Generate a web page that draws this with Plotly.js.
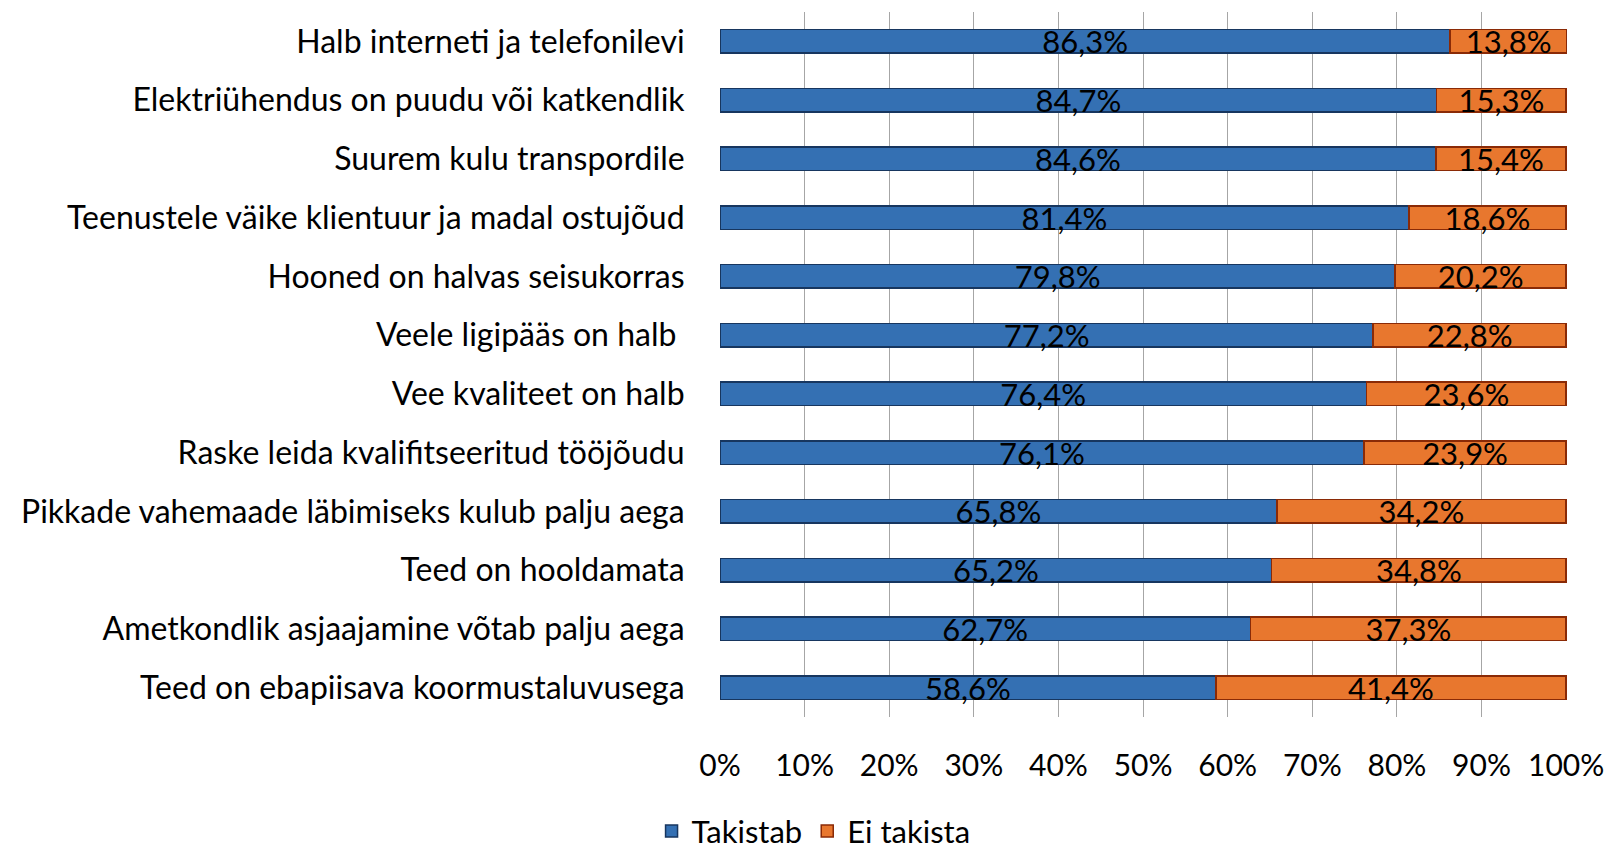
<!DOCTYPE html>
<html>
<head>
<meta charset="utf-8">
<script src="https://cdn.plot.ly/plotly-3.0.1.min.js"></script>
<style>html,body{margin:0;padding:0;background:#fff}#chart{width:1611px;height:850px}</style>
</head>
<body>
<div id="chart"></div>
<script>
const categories = [
  "Halb interneti ja telefonilevi",
  "Elektriühendus on puudu või katkendlik",
  "Suurem kulu transpordile",
  "Teenustele väike klientuur ja madal ostujõud",
  "Hooned on halvas seisukorras",
  "Veele ligipääs on halb ",
  "Vee kvaliteet on halb",
  "Raske leida kvalifitseeritud tööjõudu",
  "Pikkade vahemaade läbimiseks kulub palju aega",
  "Teed on hooldamata",
  "Ametkondlik asjaajamine võtab palju aega",
  "Teed on ebapiisava koormustaluvusega"
];
const takistab = [86.3, 84.7, 84.6, 81.4, 79.8, 77.2, 76.4, 76.1, 65.8, 65.2, 62.7, 58.6];
const eiTakista = [13.8, 15.3, 15.4, 18.6, 20.2, 22.8, 23.6, 23.9, 34.2, 34.8, 37.3, 41.4];
const tickVals = [0, 10, 20, 30, 40, 50, 60, 70, 80, 90, 100];
const tickText = ["0%", "10%", "20%", "30%", "40%", "50%", "60%", "70%", "80%", "90%", "100%"];

const FONT = "Lato, 'Open Sans', sans-serif";

const traces = [
  {
    type: "bar", orientation: "h", name: "Takistab",
    y: categories, x: takistab,
    marker: {color: "#3470b3", line: {color: "#17365f", width: 1.5}},
    texttemplate: "%{x:.1f}%", textposition: "inside", insidetextanchor: "middle",
    constraintext: "none", cliponaxis: false,
    textfont: {family: FONT, size: 31, color: "#000"}
  },
  {
    type: "bar", orientation: "h", name: "Ei takista",
    y: categories, x: eiTakista,
    marker: {color: "#e8772e", line: {color: "#8a2a06", width: 1.5}},
    texttemplate: "%{x:.1f}%", textposition: "inside", insidetextanchor: "middle",
    constraintext: "none", cliponaxis: false,
    textfont: {family: FONT, size: 31, color: "#000"}
  }
];

const layout = {
  width: 1611, height: 850,
  paper_bgcolor: "#fff", plot_bgcolor: "#fff",
  separators: ",.",
  barmode: "stack", bargap: 0.6,
  font: {family: FONT, size: 32, color: "#000"},
  margin: {l: 720, r: 44, t: 12, b: 133, pad: 0},
  xaxis: {
    range: [0, 100.1], tickvals: tickVals, ticktext: tickText,
    showgrid: true, gridcolor: "#a6a6a6", gridwidth: 1,
    zeroline: false, showline: false,
    ticks: "outside", ticklen: 22, tickcolor: "rgba(0,0,0,0)",
    tickfont: {family: FONT, size: 30, color: "#000"},
    fixedrange: true
  },
  yaxis: {
    autorange: "reversed", type: "category",
    showgrid: false, zeroline: false, showline: false,
    ticks: "outside", ticklen: 28, tickcolor: "rgba(0,0,0,0)",
    tickfont: {family: FONT, size: 32, color: "#000"},
    fixedrange: true
  },
  showlegend: true,
  legend: {
    orientation: "h", xref: "container", yref: "container",
    x: 0.505, xanchor: "center", y: 0.022, yanchor: "middle",
    font: {family: FONT, size: 31, color: "#000"},
    traceorder: "normal"
  }
};

Plotly.newPlot("chart", traces, layout, {displayModeBar: false, staticPlot: true});
</script>
</body>
</html>
